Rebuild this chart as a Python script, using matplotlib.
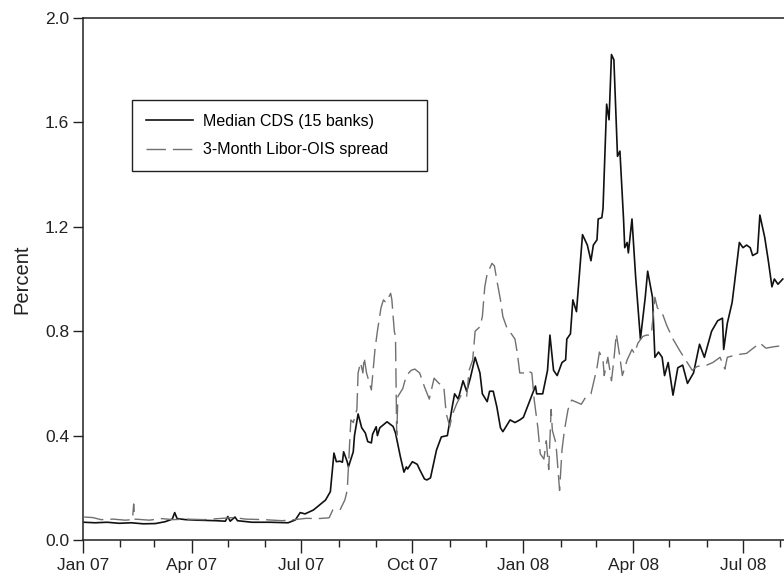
import matplotlib
matplotlib.use("Agg")
import matplotlib.pyplot as plt
import matplotlib.dates as mdates
import pandas as pd

plt.rcParams['font.family'] = ['Liberation Sans', 'DejaVu Sans']

cds_dates = [
    "2007-01-02", "2007-01-11", "2007-01-21", "2007-01-31", "2007-02-10", "2007-02-20",
    "2007-03-02", "2007-03-10", "2007-03-16", "2007-03-18", "2007-03-20", "2007-03-27",
    "2007-04-06", "2007-04-21", "2007-04-29", "2007-05-01", "2007-05-03", "2007-05-07",
    "2007-05-09", "2007-05-21", "2007-06-05", "2007-06-20", "2007-06-26", "2007-06-30",
    "2007-07-04", "2007-07-11", "2007-07-16", "2007-07-21", "2007-07-25", "2007-07-28",
    "2007-07-30", "2007-08-02", "2007-08-04", "2007-08-05", "2007-08-08", "2007-08-09",
    "2007-08-13", "2007-08-14", "2007-08-17", "2007-08-20", "2007-08-23", "2007-08-25",
    "2007-08-28", "2007-08-29", "2007-09-01", "2007-09-02", "2007-09-04", "2007-09-10",
    "2007-09-15", "2007-09-17", "2007-09-21", "2007-09-24", "2007-09-26", "2007-09-27",
    "2007-10-01", "2007-10-05", "2007-10-07", "2007-10-11", "2007-10-13", "2007-10-16",
    "2007-10-21", "2007-10-25", "2007-10-30", "2007-11-03", "2007-11-05", "2007-11-08",
    "2007-11-12", "2007-11-15", "2007-11-18", "2007-11-22", "2007-11-26", "2007-11-28",
    "2007-12-02", "2007-12-04", "2007-12-07", "2007-12-10", "2007-12-13", "2007-12-15",
    "2007-12-21", "2007-12-25", "2007-12-29", "2008-01-01", "2008-01-06", "2008-01-11",
    "2008-01-12", "2008-01-17", "2008-01-21", "2008-01-23", "2008-01-26", "2008-01-29",
    "2008-02-02", "2008-02-05", "2008-02-06", "2008-02-09", "2008-02-11", "2008-02-14",
    "2008-02-17", "2008-02-19", "2008-02-23", "2008-02-26", "2008-02-28", "2008-03-02",
    "2008-03-03", "2008-03-06", "2008-03-07", "2008-03-10", "2008-03-12", "2008-03-14",
    "2008-03-16", "2008-03-19", "2008-03-21", "2008-03-24", "2008-03-25", "2008-03-27",
    "2008-03-28", "2008-03-31", "2008-04-03", "2008-04-07", "2008-04-11", "2008-04-13",
    "2008-04-17", "2008-04-19", "2008-04-22", "2008-04-25", "2008-04-27", "2008-04-30",
    "2008-05-04", "2008-05-08", "2008-05-12", "2008-05-16", "2008-05-21", "2008-05-26",
    "2008-05-30", "2008-06-05", "2008-06-10", "2008-06-14", "2008-06-15", "2008-06-18",
    "2008-06-22", "2008-06-24", "2008-06-28", "2008-07-01", "2008-07-04", "2008-07-07",
    "2008-07-09", "2008-07-13", "2008-07-15", "2008-07-19", "2008-07-22", "2008-07-25",
    "2008-07-27", "2008-07-30", "2008-08-03",
]
cds_values = [
    0.068, 0.066, 0.068, 0.064, 0.066, 0.062,
    0.063, 0.070, 0.080, 0.105, 0.082, 0.078,
    0.076, 0.074, 0.072, 0.090, 0.072, 0.088,
    0.074, 0.068, 0.068, 0.066, 0.077, 0.105,
    0.100, 0.115, 0.134, 0.153, 0.185, 0.333,
    0.300, 0.302, 0.298, 0.338, 0.300, 0.280,
    0.338, 0.400, 0.483, 0.430, 0.410, 0.377,
    0.372, 0.405, 0.434, 0.400, 0.430, 0.453,
    0.435, 0.410, 0.320, 0.260, 0.280, 0.272,
    0.300, 0.290, 0.270, 0.234, 0.230, 0.238,
    0.345, 0.395, 0.400, 0.510, 0.560, 0.540,
    0.610, 0.570, 0.620, 0.700, 0.640, 0.560,
    0.530, 0.570, 0.570, 0.510, 0.430, 0.415,
    0.460, 0.450, 0.460, 0.470, 0.530, 0.590,
    0.560, 0.560, 0.650, 0.785, 0.650, 0.630,
    0.680, 0.690, 0.770, 0.790, 0.920, 0.875,
    1.050, 1.170, 1.130, 1.070, 1.130, 1.150,
    1.230, 1.235, 1.270, 1.670, 1.610, 1.860,
    1.840, 1.470, 1.490, 1.230, 1.120, 1.140,
    1.100, 1.230, 1.010, 0.770, 0.930, 1.030,
    0.930, 0.700, 0.720, 0.700, 0.630, 0.680,
    0.555, 0.660, 0.670, 0.600, 0.640, 0.750,
    0.700, 0.800, 0.840, 0.850, 0.730, 0.830,
    0.910, 0.985, 1.140, 1.120, 1.130, 1.120,
    1.090, 1.100, 1.245, 1.160, 1.070, 0.970,
    1.000, 0.980, 1.000,
]

ois_dates = [
    "2007-01-02", "2007-01-09", "2007-01-16", "2007-01-26", "2007-02-05", "2007-02-11",
    "2007-02-12", "2007-02-13", "2007-02-25", "2007-03-07", "2007-03-17", "2007-03-27",
    "2007-04-11", "2007-04-23", "2007-05-06", "2007-05-16", "2007-05-31", "2007-06-15",
    "2007-06-25", "2007-07-05", "2007-07-15", "2007-07-24", "2007-07-27", "2007-08-02",
    "2007-08-06", "2007-08-08", "2007-08-10", "2007-08-11", "2007-08-13", "2007-08-16",
    "2007-08-17", "2007-08-19", "2007-08-21", "2007-08-22", "2007-08-24", "2007-08-28",
    "2007-08-31", "2007-09-02", "2007-09-05", "2007-09-07", "2007-09-09", "2007-09-13",
    "2007-09-14", "2007-09-16", "2007-09-17", "2007-09-18", "2007-09-19", "2007-09-23",
    "2007-09-26", "2007-09-30", "2007-10-03", "2007-10-07", "2007-10-11", "2007-10-15",
    "2007-10-19", "2007-10-23", "2007-10-27", "2007-10-29", "2007-11-01", "2007-11-03",
    "2007-11-07", "2007-11-11", "2007-11-15", "2007-11-17", "2007-11-20", "2007-11-22",
    "2007-11-26", "2007-11-28", "2007-11-30", "2007-12-02", "2007-12-06", "2007-12-08",
    "2007-12-10", "2007-12-13", "2007-12-15", "2007-12-18", "2007-12-22", "2007-12-25",
    "2007-12-27", "2007-12-29", "2008-01-02", "2008-01-04", "2008-01-08", "2008-01-10",
    "2008-01-13", "2008-01-15", "2008-01-18", "2008-01-20", "2008-01-22", "2008-01-24",
    "2008-01-25", "2008-01-28", "2008-01-29", "2008-01-31", "2008-02-02", "2008-02-04",
    "2008-02-07", "2008-02-10", "2008-02-18", "2008-02-22", "2008-02-26", "2008-03-02",
    "2008-03-04", "2008-03-07", "2008-03-08", "2008-03-11", "2008-03-14", "2008-03-16",
    "2008-03-18", "2008-03-21", "2008-03-23", "2008-03-27", "2008-03-31", "2008-04-02",
    "2008-04-05", "2008-04-09", "2008-04-12", "2008-04-16", "2008-04-19", "2008-04-21",
    "2008-04-25", "2008-04-29", "2008-05-04", "2008-05-09", "2008-05-13", "2008-05-18",
    "2008-05-20", "2008-05-24", "2008-06-01", "2008-06-06", "2008-06-12", "2008-06-16",
    "2008-06-18", "2008-06-26", "2008-07-04", "2008-07-15", "2008-07-20", "2008-07-26",
    "2008-08-03",
]
ois_values = [
    0.088, 0.086, 0.078, 0.080, 0.076, 0.078,
    0.138, 0.080, 0.076, 0.082, 0.078, 0.080,
    0.078, 0.082, 0.086, 0.080, 0.078, 0.074,
    0.078, 0.083, 0.082, 0.085, 0.115, 0.115,
    0.153, 0.190, 0.370, 0.460, 0.450, 0.500,
    0.640, 0.680, 0.640, 0.700, 0.640, 0.575,
    0.730, 0.800, 0.890, 0.920, 0.910, 0.945,
    0.920, 0.800, 0.780, 0.400, 0.550, 0.580,
    0.630, 0.650, 0.655, 0.640, 0.587, 0.540,
    0.620, 0.600, 0.590, 0.485, 0.434, 0.480,
    0.525, 0.560, 0.550, 0.650, 0.690, 0.800,
    0.817, 0.856, 0.970, 1.020, 1.060, 1.050,
    0.995, 0.920, 0.856, 0.817, 0.790, 0.770,
    0.715, 0.640, 0.640, 0.650, 0.640, 0.536,
    0.430, 0.330, 0.310, 0.380, 0.270, 0.500,
    0.420, 0.370, 0.310, 0.190, 0.345, 0.420,
    0.500, 0.536, 0.520, 0.550, 0.560, 0.660,
    0.720, 0.690, 0.630, 0.700, 0.610, 0.690,
    0.790, 0.700, 0.630, 0.690, 0.730, 0.715,
    0.755, 0.780, 0.785, 0.785, 0.930, 0.890,
    0.870, 0.820, 0.770, 0.730, 0.700, 0.664,
    0.650, 0.665, 0.670, 0.680, 0.700, 0.655,
    0.700, 0.710, 0.715, 0.755, 0.735, 0.740,
    0.745,
]

series_labels = ["Median CDS (15 banks)", "3-Month Libor-OIS spread"]
y_ticks = [0.0, 0.4, 0.8, 1.2, 1.6, 2.0]
x_start, x_end = "2007-01-01", "2008-08-04"

fig = plt.figure(figsize=(7.84, 5.78), dpi=100)
ax = fig.add_axes([83 / 784, 1 - 540 / 578, 1 - 83 / 784, 522 / 578])

ax.plot(pd.to_datetime(cds_dates), cds_values, color="#111111", lw=1.2,
        label=series_labels[0])
ax.plot(pd.to_datetime(ois_dates), ois_values, color="#707070", lw=1.0,
        dashes=(14, 5), label=series_labels[1])

ax.set_xlim(pd.Timestamp(x_start), pd.Timestamp(x_end))
ax.set_ylim(0, 2.0)
ax.set_yticks(y_ticks)
ax.set_yticklabels([f"{v:.1f}" for v in y_ticks])
ax.xaxis.set_major_locator(mdates.MonthLocator(bymonth=[1, 4, 7, 10]))
ax.xaxis.set_minor_locator(mdates.MonthLocator())
ax.xaxis.set_major_formatter(mdates.DateFormatter("%b %y"))

ax.spines["right"].set_visible(False)
for s in ("left", "bottom", "top"):
    ax.spines[s].set_linewidth(1.1)
    ax.spines[s].set_color("#222222")

ax.tick_params(axis="y", direction="out", length=7, width=1, labelsize=12.5,
               colors="#222222", pad=3)
ax.tick_params(axis="x", which="major", direction="out", length=9, width=1,
               labelsize=12.5, colors="#222222", pad=4)
ax.tick_params(axis="x", which="minor", direction="out", length=5, width=1,
               colors="#222222")

ax.set_ylabel("Percent", fontsize=14.5, color="#222222", labelpad=10)

leg = ax.legend(loc="upper left",
                bbox_to_anchor=((132 - 83) / 701, (540 - 167) / 522, 295 / 701, 67 / 522),
                mode="expand",
                fontsize=11.5, frameon=True, fancybox=False, framealpha=1,
                edgecolor="#222222", handlelength=3.0, handletextpad=0.6,
                borderpad=0.85, labelspacing=0.85, borderaxespad=0)
leg.get_frame().set_linewidth(1.0)

fig.savefig("out.png", dpi=100)
